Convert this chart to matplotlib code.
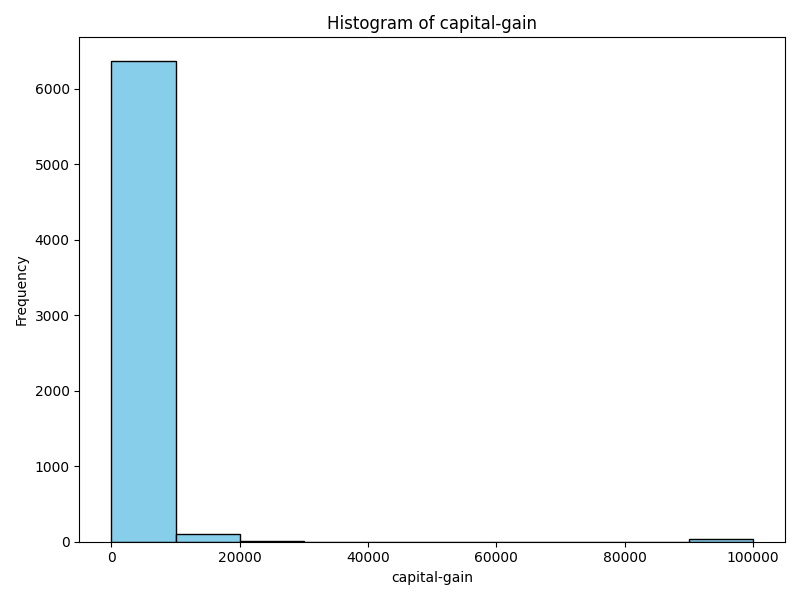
import matplotlib
matplotlib.use('Agg')
import matplotlib.pyplot as plt
import numpy as np

# bin edges (10 bins from 0 to 99999) and counts
bin_edges = np.linspace(0, 99999, 11)
counts = [6360, 103, 13, 2, 1, 0, 0, 0, 0, 40]

centers = (bin_edges[:-1] + bin_edges[1:]) / 2
fig, ax = plt.subplots(figsize=(8, 6))
ax.hist(centers, bins=bin_edges, weights=counts, color='skyblue', edgecolor='black')
ax.set_title('Histogram of capital-gain')
ax.set_xlabel('capital-gain')
ax.set_ylabel('Frequency')
plt.tight_layout()
plt.savefig('out.png', dpi=100)
